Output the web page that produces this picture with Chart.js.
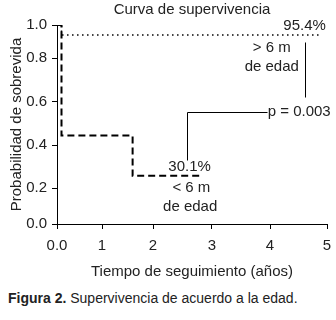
<!DOCTYPE html>
<html>
<head>
<meta charset="utf-8">
<script src="https://cdn.jsdelivr.net/npm/chart.js@4"></script>
<style>
  body { margin: 0; background: #fff; }
  #wrap { position: relative; width: 336px; height: 320px; }
  #caption { position: absolute; left: 8px; top: 290px; font: 14px "Liberation Sans", Arial, sans-serif; color: #222; line-height: 17px; }
</style>
</head>
<body>
<div id="wrap">
  <canvas id="grafico" width="336" height="290"></canvas>
  <div id="caption"><b>Figura 2.</b> Supervivencia de acuerdo a la edad.</div>
</div>
<script>
// curva < 6 m (pasos Kaplan-Meier)
const menoresX = [0, 0.1, 1.6, 2.8];
const menoresY = [1.0, 0.444, 0.257, 0.257];
// curva > 6 m
const mayoresX = [0, 0.1, 4.87];
const mayoresY = [1.0, 0.94, 0.94];

const xTicks = [0, 1, 2, 3, 4, 5];
const xTickLabels = ['0.0', '1', '2', '3', '4', '5'];
const yTicks = [0, 0.2, 0.4, 0.6, 0.8, 1.0];
const yTickLabels = ['0.0', '0.2', '0.4', '0.6', '0.8', '1.0'];

// los ejes del original no son regulares: fraccion del eje en cada tick
const xTickFrac = [0, 0.1667, 0.3556, 0.574, 0.789, 1];
const yTickFrac = [0, 0.1806, 0.3964, 0.6137, 0.833, 1];

// textos y lineas de referencia (en unidades de datos)
const notas = ['95.4%', '> 6 m', 'de edad', 'p = 0.003', '30.1%', '< 6 m', 'de edad'];
const notasX = [4.98, 4.03, 4.03, 3.96, 2.62, 2.65, 2.63];
const notasY = [0.994, 0.862, 0.76, 0.554, 0.299, 0.2, 0.096];
const notasAlign = ['right', 'center', 'center', 'left', 'center', 'center', 'center'];
const conectores = [
    [[4.61, 0.898], [4.61, 0.623]],
    [[2.58, 0.332], [2.58, 0.554], [3.94, 0.554]]
];

const fuente = '"Liberation Sans", Arial, sans-serif';

function Estirar(stops, fracs, v) {
    for (let i = 1; i < stops.length; i++) {
        if (v <= stops[i] || i === stops.length - 1) {
            const t = (v - stops[i - 1]) / (stops[i] - stops[i - 1]);
            return fracs[i - 1] + t * (fracs[i] - fracs[i - 1]);
        }
    }
    return 0;
}

class EscalaEstirada extends Chart.LinearScale {
    getPixelForValue(value) {
        const o = this.options;
        return this.getPixelForDecimal(Estirar(o.stops, o.fracs, value));
    }
    getValueForPixel(pixel) {
        const o = this.options;
        return Estirar(o.fracs, o.stops, this.getDecimalForPixel(pixel));
    }
}
EscalaEstirada.id = 'estirada';
EscalaEstirada.defaults = Chart.LinearScale.defaults;
Chart.register(EscalaEstirada);

function Puntos(xs, ys) {
    return xs.map(function (x, i) { return { x: x, y: ys[i] }; });
}

const pluginNotas = {
    id: 'notas',
    afterDraw: function (chart) {
        const ctx = chart.ctx;
        const sx = chart.scales.x, sy = chart.scales.y;
        ctx.save();
        ctx.strokeStyle = '#000';
        ctx.lineWidth = 1;
        conectores.forEach(function (linea) {
            ctx.beginPath();
            linea.forEach(function (p, i) {
                const px = Math.round(sx.getPixelForValue(p[0])) + 0.5;
                const py = Math.round(sy.getPixelForValue(p[1])) + 0.5;
                if (i === 0) ctx.moveTo(px, py); else ctx.lineTo(px, py);
            });
            ctx.stroke();
        });
        ctx.fillStyle = '#222';
        ctx.font = '15px ' + fuente;
        ctx.textBaseline = 'middle';
        notas.forEach(function (t, i) {
            ctx.textAlign = notasAlign[i];
            ctx.fillText(t, sx.getPixelForValue(notasX[i]), sy.getPixelForValue(notasY[i]));
        });
        ctx.restore();
    }
};

new Chart(document.getElementById('grafico'), {
    type: 'line',
    data: {
        datasets: [{
            label: '< 6 m de edad',
            data: Puntos(menoresX, menoresY),
            borderColor: '#000',
            borderWidth: 2,
            borderDash: [7, 4],
            stepped: true,
            pointRadius: 0,
            fill: false
        }, {
            label: '> 6 m de edad',
            data: Puntos(mayoresX, mayoresY),
            borderColor: '#000',
            borderWidth: 1.5,
            borderDash: [1.5, 3.5],
            stepped: true,
            pointRadius: 0,
            fill: false
        }]
    },
    options: {
        responsive: false,
        animation: false,
        devicePixelRatio: 1,
        layout: { padding: { left: 0, right: 9, top: 0, bottom: 0 } },
        plugins: {
            legend: { display: false },
            tooltip: { enabled: false },
            title: {
                display: true,
                fullSize: false,
                text: 'Curva de supervivencia',
                color: '#222',
                font: { family: fuente, size: 15, weight: 'normal' },
                padding: { top: 1, bottom: 6 }
            }
        },
        scales: {
            x: {
                type: 'estirada',
                min: 0,
                max: 5,
                stops: xTicks,
                fracs: xTickFrac,
                afterBuildTicks: function (s) { s.ticks = xTicks.map(function (v) { return { value: v }; }); },
                afterFit: function (s) { s.height = 66; s.paddingLeft = 0; s.paddingRight = 0; },
                grid: { display: true, drawOnChartArea: false, tickLength: 5, color: '#000', tickColor: '#000' },
                border: { display: true, color: '#000', width: 1 },
                ticks: {
                    color: '#222',
                    font: { family: fuente, size: 15 },
                    padding: 8,
                    maxRotation: 0,
                    callback: function (v) { return xTickLabels[xTicks.indexOf(v)]; }
                },
                title: {
                    display: true,
                    text: 'Tiempo de seguimiento (años)',
                    color: '#222',
                    font: { family: fuente, size: 15 },
                    padding: { top: 0, bottom: 9 }
                }
            },
            y: {
                type: 'estirada',
                min: 0,
                max: 1,
                stops: yTicks,
                fracs: yTickFrac,
                afterBuildTicks: function (s) { s.ticks = yTicks.map(function (v) { return { value: v }; }); },
                afterFit: function (s) { s.width = 57; s.paddingTop = 0; s.paddingBottom = 0; },
                grid: { display: true, drawOnChartArea: false, tickLength: 5, color: '#000', tickColor: '#000' },
                border: { display: true, color: '#000', width: 1 },
                ticks: {
                    color: '#222',
                    font: { family: fuente, size: 15 },
                    padding: 5,
                    callback: function (v) { return yTickLabels[yTicks.indexOf(v)]; }
                },
                title: {
                    display: true,
                    text: 'Probabilidad de sobrevida',
                    color: '#222',
                    font: { family: fuente, size: 15 },
                    padding: { top: 8, bottom: 0 }
                }
            }
        }
    },
    plugins: [pluginNotas]
});
</script>
</body>
</html>
